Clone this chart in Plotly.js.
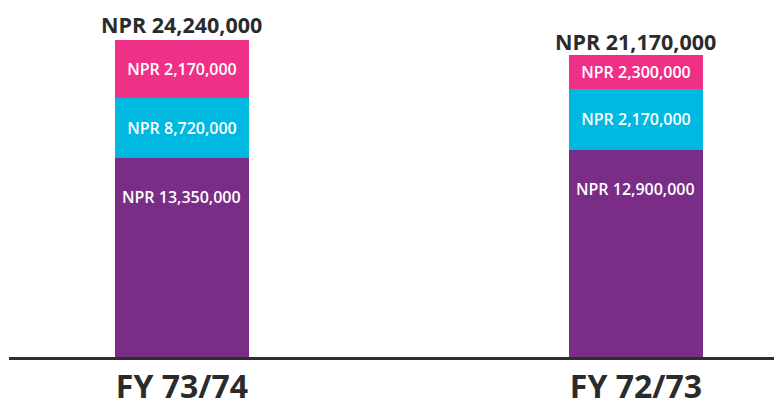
<!DOCTYPE html>
<html>
<head>
<meta charset="utf-8">
<script src="https://cdn.plot.ly/plotly-3.0.1.min.js"></script>
<style>html,body{margin:0;padding:0;background:#fff;}#chart{width:774px;height:407px;}</style>
</head>
<body>
<div id="chart"></div>
<script>
// Categories (left to right as drawn)
var categories = ["FY 73/74", "FY 72/73"];
// Segment heights as drawn in the picture (millions of NPR, drawn scale)
var purpleValues = [15.24, 15.85];
var cyanValues = [4.59, 4.62];
var pinkValues = [4.41, 2.65];
// Labels printed on the chart
var purpleLabels = ["NPR 13,350,000", "NPR 12,900,000"];
var cyanLabels = ["NPR 8,720,000", "NPR 2,170,000"];
var pinkLabels = ["NPR 2,170,000", "NPR 2,300,000"];
var totalLabels = ["NPR 24,240,000", "NPR 21,170,000"];

var xs = [0, 1];
var FONT = "'Open Sans', Lato, sans-serif";
var insideFont = {family: FONT, size: 16, color: "#ffffff", weight: 600};

function seg(vals, labels, color, showText) {
  return {
    type: "bar", x: xs, y: vals, width: 0.295,
    marker: {color: color, line: {width: 0}},
    text: showText ? labels : null,
    textposition: showText ? "inside" : "none",
    insidetextanchor: "middle",
    textangle: 0,
    constraintext: "none",
    insidetextfont: insideFont,
    hoverinfo: "skip",
    showlegend: false
  };
}

var data = [
  seg(purpleValues, purpleLabels, "#7a2d86", false),
  seg(cyanValues, cyanLabels, "#00b9e1", true),
  seg(pinkValues, pinkLabels, "#ef3087", true)
];

var annotations = [];
var totalShift = [15.5, 13.5];
for (var i = 0; i < xs.length; i++) {
  annotations.push({
    x: xs[i], y: purpleValues[i], xref: "x", yref: "y",
    text: purpleLabels[i], showarrow: false, yanchor: "middle",
    yshift: -39, font: insideFont
  });
  var total = purpleValues[i] + cyanValues[i] + pinkValues[i];
  annotations.push({
    x: xs[i], y: total, xref: "x", yref: "y",
    text: totalLabels[i], showarrow: false, yanchor: "middle",
    yshift: totalShift[i],
    font: {family: FONT, size: 21.5, color: "#2b2b2b", weight: 700}
  });
}

var layout = {
  width: 774, height: 407,
  margin: {l: 9, r: 0, t: 10, b: 50, pad: 0},
  paper_bgcolor: "#ffffff", plot_bgcolor: "#ffffff",
  barmode: "stack",
  xaxis: {
    range: [-0.381, 1.304],
    tickvals: xs, ticktext: categories,
    showline: true, linecolor: "#2e2e2e", linewidth: 3,
    showgrid: false, zeroline: false, ticks: "",
    tickfont: {family: FONT, size: 32, color: "#2b2b2b", weight: 700},
    ticklabelstandoff: 0,
    fixedrange: true
  },
  yaxis: {
    range: [0, 26.53],
    visible: false, showgrid: false, zeroline: false, fixedrange: true
  },
  annotations: annotations,
  showlegend: false
};

Plotly.newPlot("chart", data, layout, {displayModeBar: false, staticPlot: true});
</script>
</body>
</html>
